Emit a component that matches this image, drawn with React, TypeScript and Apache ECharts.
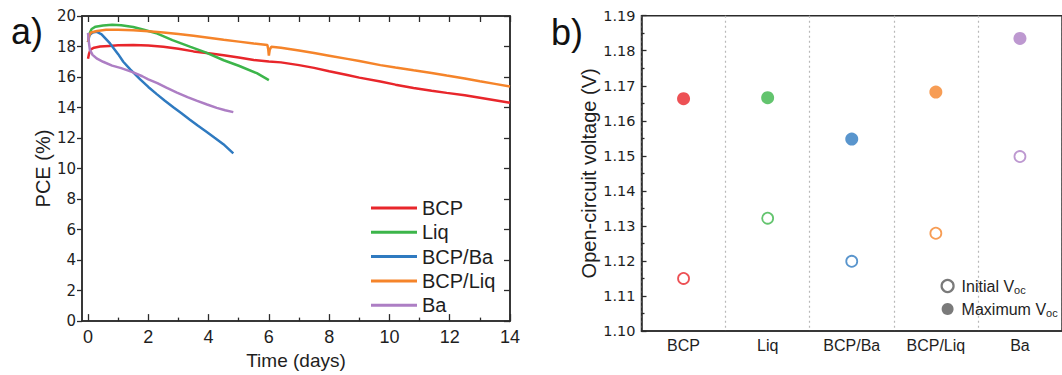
import React, { useEffect, useRef } from "react";
import * as echarts from "echarts";

const FONT = "'Liberation Sans', Arial, sans-serif";
const DJ = "'DejaVu Sans', sans-serif";
const AX = "#2b2b2b";
const TXT = "#1e1e1e";

// ---------- panel a data ----------
const seriesNamesA = ["BCP", "Liq", "BCP/Ba", "BCP/Liq", "Ba"];
const colorsA = ["#e8262b", "#3cb54a", "#2f7ac0", "#f5842a", "#ad7ec4"];

const bcpCurve = [
  [0, 17.2], [0.03, 17.5], [0.08, 17.8], [0.2, 17.92], [0.4, 18.0], [0.7, 18.04],
  [1.0, 18.08], [1.5, 18.1], [2.0, 18.06], [2.5, 17.98], [3.0, 17.85], [3.5, 17.68],
  [4.0, 17.56], [4.5, 17.42], [5.0, 17.28], [5.5, 17.12], [6.0, 17.02], [6.4, 16.96],
  [7.0, 16.78], [7.5, 16.6], [8.0, 16.38], [8.6, 16.13], [9.0, 15.96], [9.7, 15.7],
  [10.2, 15.5], [10.8, 15.28], [11.4, 15.1], [11.9, 14.96], [12.5, 14.8], [13.0, 14.64],
  [13.5, 14.48], [14.0, 14.32],
];
const liqCurve = [
  [0, 18.3], [0.04, 18.8], [0.12, 19.15], [0.25, 19.3], [0.5, 19.38], [0.8, 19.42],
  [1.1, 19.4], [1.5, 19.28], [1.85, 19.1], [2.3, 18.85], [2.8, 18.42], [3.4, 17.98],
  [3.9, 17.62], [4.5, 17.1], [5.0, 16.74], [5.6, 16.25], [6.0, 15.8],
];
const bcpBaCurve = [
  [0, 18.3], [0.05, 18.75], [0.15, 18.92], [0.28, 18.97], [0.45, 18.8], [0.73, 18.2],
  [1.0, 17.5], [1.17, 17.0], [1.4, 16.5], [1.73, 15.85], [2.0, 15.35], [2.28, 14.88],
  [2.55, 14.45], [2.83, 14.02], [3.1, 13.62], [3.38, 13.2], [3.65, 12.8], [3.94, 12.4],
  [4.2, 12.02], [4.49, 11.6], [4.82, 11.0],
];
const bcpLiqCurve = [
  [0, 18.3], [0.03, 18.7], [0.1, 18.92], [0.3, 19.02], [0.6, 19.1], [1.0, 19.1],
  [1.5, 19.06], [2.0, 19.0], [2.5, 18.92], [3.0, 18.82], [3.5, 18.7], [4.0, 18.57],
  [4.5, 18.44], [5.0, 18.32], [5.5, 18.2], [5.95, 18.1], [5.98, 17.8], [6.0, 17.4],
  [6.03, 17.8], [6.08, 17.98], [6.4, 17.92], [7.0, 17.74], [7.5, 17.57], [8.0, 17.4],
  [8.6, 17.19], [9.0, 17.05], [9.7, 16.78], [10.2, 16.62], [10.8, 16.44], [11.4, 16.27],
  [11.9, 16.1], [12.5, 15.9], [13.0, 15.72], [13.5, 15.55], [14.0, 15.38],
];
const baCurve = [
  [0, 18.9], [0.02, 18.4], [0.06, 17.8], [0.15, 17.45], [0.3, 17.2], [0.5, 17.0],
  [0.8, 16.75], [1.1, 16.58], [1.5, 16.3], [1.8, 16.05], [2.0, 15.85], [2.3, 15.6],
  [2.6, 15.3], [2.95, 14.98], [3.3, 14.68], [3.6, 14.45], [3.95, 14.2], [4.27, 13.98],
  [4.55, 13.82], [4.82, 13.7],
];
const curvesA = [bcpCurve, liqCurve, bcpBaCurve, bcpLiqCurve, baCurve];

const xMajorTicks = [0, 2, 4, 6, 8, 10, 12, 14];
const xMinorTicks = [1, 3, 5, 7, 9, 11, 13];
const xTopTicks = [0, 1, 2, 3, 4, 5, 6, 7, 8, 9, 10, 11, 12, 13, 14];

// ---------- panel b data ----------
const categoriesB = ["BCP", "Liq", "BCP/Ba", "BCP/Liq", "Ba"];
const colorsB = ["#e8262b", "#3cb54a", "#2f7ac0", "#f5842a", "#ad7ec4"];
const initialVoc = [1.115, 1.1322, 1.1199, 1.1279, 1.1498];
const maximumVoc = [1.1663, 1.1666, 1.1548, 1.1682, 1.1835];

export default function App() {
  const ref = useRef<HTMLDivElement>(null);

  useEffect(() => {
    if (!ref.current) return;
    const chart = echarts.init(ref.current, undefined, { renderer: "svg" });

    const lineSeries = seriesNamesA.map((name, i) => ({
      name,
      type: "line",
      xAxisIndex: 0,
      yAxisIndex: 0,
      data: curvesA[i],
      symbol: "none",
      showSymbol: false,
      lineStyle: { color: colorsA[i], width: 2.5 },
      itemStyle: { color: colorsA[i] },
      z: 3,
    }));

    const option: any = {
      animation: false,
      textStyle: { fontFamily: FONT },
      grid: [
        { left: 82, right: 552, top: 16, bottom: 45, show: true, borderColor: AX, borderWidth: 1.5, backgroundColor: "transparent" },
        { left: 641.5, right: -6.5, top: 15.7, bottom: 44, show: true, borderColor: AX, borderWidth: 1.5, backgroundColor: "transparent" },
      ],
      xAxis: [
        {
          type: "value", gridIndex: 0, min: -0.2, max: 14, position: "bottom",
          axisLine: { show: true, onZero: false, lineStyle: { color: AX, width: 1.5 } },
          axisTick: { show: true, inside: true, length: 7, customValues: xMajorTicks, lineStyle: { color: AX, width: 1.3 } },
          axisLabel: { show: true, customValues: xMajorTicks, fontSize: 18, color: TXT, margin: 7, fontFamily: FONT },
          splitLine: { show: false },
          name: "Time (days)", nameLocation: "middle", nameGap: 24,
          nameTextStyle: { fontSize: 19, color: TXT, fontFamily: FONT },
        },
        {
          type: "value", gridIndex: 0, min: -0.2, max: 14, position: "bottom",
          axisLine: { show: false, onZero: false },
          axisTick: { show: true, inside: true, length: 3.5, customValues: xMinorTicks, lineStyle: { color: AX, width: 1.3 } },
          axisLabel: { show: false },
          splitLine: { show: false },
        },
        {
          type: "value", gridIndex: 0, min: -0.2, max: 14, position: "top",
          axisLine: { show: true, onZero: false, lineStyle: { color: AX, width: 1.5 } },
          axisTick: { show: true, inside: true, length: 6, customValues: xTopTicks, lineStyle: { color: AX, width: 1.3 } },
          axisLabel: { show: false },
          splitLine: { show: false },
        },
        {
          type: "category", gridIndex: 1, data: categoriesB, boundaryGap: true,
          axisLine: { show: true, lineStyle: { color: AX, width: 1.5 } },
          axisTick: { show: false },
          axisLabel: { fontSize: 16, color: TXT, margin: 6, fontFamily: FONT },
          splitLine: { show: true, lineStyle: { type: [2, 3], color: "#b8b8b8", width: 1.2 } },
        },
      ],
      yAxis: [
        {
          type: "value", gridIndex: 0, min: 0, max: 20, interval: 2, position: "left",
          axisLine: { show: true, onZero: false, lineStyle: { color: AX, width: 1.5 } },
          axisTick: { show: true, inside: false, length: 5, lineStyle: { color: AX, width: 1.3 } },
          axisLabel: { fontSize: 15, color: TXT, margin: 6, fontFamily: DJ },
          splitLine: { show: false },
          name: "PCE (%)", nameLocation: "middle", nameGap: 29,
          nameTextStyle: { fontSize: 20, color: TXT, fontFamily: FONT },
        },
        {
          type: "value", gridIndex: 0, min: 0, max: 20, interval: 2, position: "right",
          axisLine: { show: true, onZero: false, lineStyle: { color: AX, width: 1.5 } },
          axisTick: { show: true, inside: true, length: 6, lineStyle: { color: AX, width: 1.3 } },
          axisLabel: { show: false },
          splitLine: { show: false },
        },
        {
          type: "value", gridIndex: 1, min: 1.1, max: 1.19, interval: 0.01, position: "left",
          axisLine: { show: true, onZero: false, lineStyle: { color: AX, width: 1.5 } },
          axisTick: { show: true, inside: true, length: 5, lineStyle: { color: AX, width: 1.3 } },
          minorTick: { show: true, splitNumber: 2, length: 3, lineStyle: { color: AX, width: 1.3 } },
          axisLabel: { fontSize: 14.5, color: TXT, margin: 6, fontFamily: DJ, formatter: (v: number) => v.toFixed(2) },
          splitLine: { show: false },
          name: "Open-circuit voltage (V)", nameLocation: "middle", nameGap: 42,
          nameTextStyle: { fontSize: 20, color: TXT, fontFamily: FONT },
        },
      ],
      legend: [
        {
          data: seriesNamesA.map((name, i) => ({ name, icon: "rect", itemStyle: { color: colorsA[i] } })),
          orient: "vertical",
          left: 371,
          top: 198,
          padding: 0,
          itemWidth: 46,
          itemHeight: 3,
          itemGap: 4.3,
          textStyle: { fontSize: 20, lineHeight: 20, color: TXT, fontFamily: FONT },
          selectedMode: false,
        },
        {
          data: [
            { name: "Initial", icon: "circle", itemStyle: { color: "#ffffff", borderColor: "#595959", borderWidth: 2.2 } },
            { name: "Maximum", icon: "circle", itemStyle: { color: "#595959", borderWidth: 0 } },
          ],
          orient: "vertical",
          left: 940.5,
          top: 277,
          padding: 0,
          itemWidth: 12,
          itemHeight: 12,
          itemGap: 5,
          selectedMode: false,
          formatter: (name: string) => name + " V{sub|oc}",
          textStyle: {
            fontSize: 16, lineHeight: 18, color: TXT, fontFamily: FONT, padding: [0, 0, 0, 3],
            rich: { sub: { fontSize: 11, lineHeight: 10, verticalAlign: "bottom", color: TXT, fontFamily: FONT } },
          },
        },
      ],
      graphic: [
        { type: "text", left: 11, top: 13, style: { text: "a)", font: `36px ${FONT}`, fill: "#111" } },
        { type: "text", left: 551, top: 14, style: { text: "b)", font: `36px ${FONT}`, fill: "#111" } },
      ],
      series: [
        ...lineSeries,
        {
          name: "Initial",
          type: "scatter",
          xAxisIndex: 3,
          yAxisIndex: 2,
          symbol: "circle",
          symbolSize: 11,
          itemStyle: { color: "#595959" },
          data: initialVoc.map((v, i) => ({
            value: [i, v],
            itemStyle: { color: "#ffffff", borderColor: colorsB[i], borderWidth: 1.8 },
          })),
          z: 4,
        },
        {
          name: "Maximum",
          type: "scatter",
          xAxisIndex: 3,
          yAxisIndex: 2,
          symbol: "circle",
          symbolSize: 13,
          itemStyle: { color: "#595959" },
          data: maximumVoc.map((v, i) => ({
            value: [i, v],
            itemStyle: { color: colorsB[i] },
          })),
          z: 4,
        },
      ],
    };

    chart.setOption(option);
    return () => chart.dispose();
  }, []);

  return (
    <div
      ref={ref}
      style={{ position: "absolute", left: 0, top: 0, width: 1062, height: 375, background: "#fff" }}
    />
  );
}
